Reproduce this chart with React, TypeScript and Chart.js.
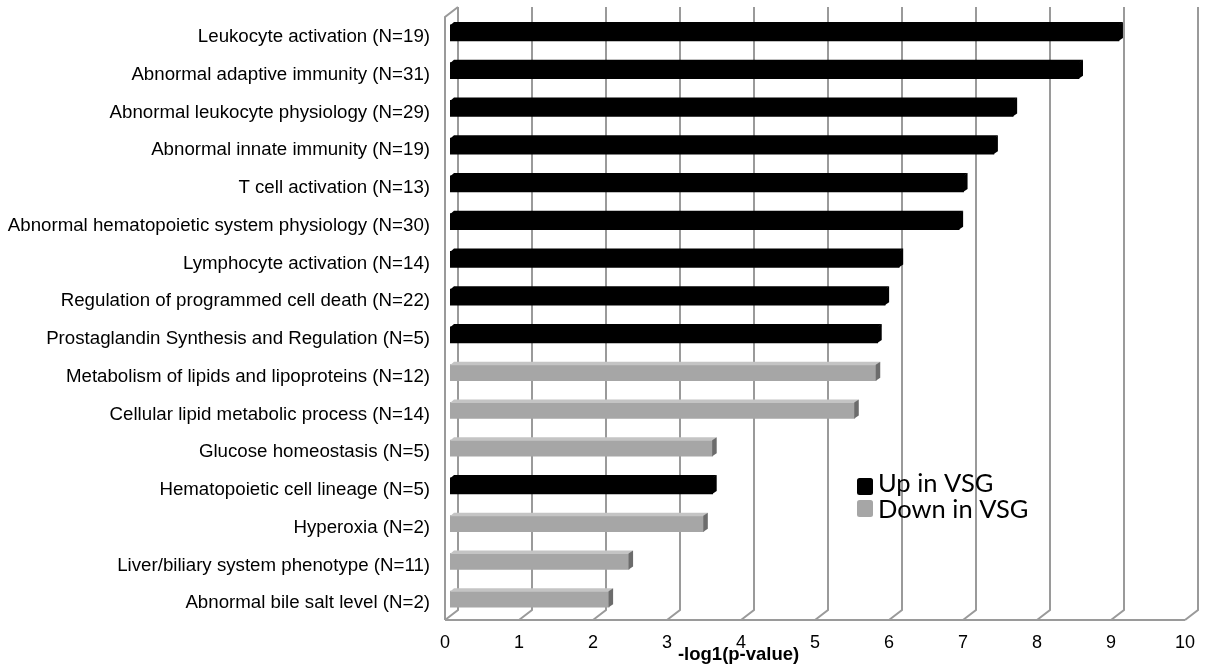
import React, { useEffect, useRef } from "react";
import { Chart, registerables } from "chart.js";

Chart.register(...registerables);

const categories = [
  "Leukocyte activation (N=19)",
  "Abnormal adaptive immunity (N=31)",
  "Abnormal leukocyte physiology (N=29)",
  "Abnormal innate immunity (N=19)",
  "T cell activation (N=13)",
  "Abnormal hematopoietic system physiology (N=30)",
  "Lymphocyte activation (N=14)",
  "Regulation of programmed cell death (N=22)",
  "Prostaglandin Synthesis and Regulation (N=5)",
  "Metabolism of lipids and lipoproteins (N=12)",
  "Cellular lipid metabolic process (N=14)",
  "Glucose homeostasis (N=5)",
  "Hematopoietic cell lineage (N=5)",
  "Hyperoxia (N=2)",
  "Liver/biliary system phenotype (N=11)",
  "Abnormal bile salt level (N=2)",
];

const values = [9.04, 8.5, 7.61, 7.35, 6.94, 6.88, 6.07, 5.88, 5.78, 5.76, 5.47, 3.55, 3.55, 3.43, 2.42, 2.15];

const direction = ["up", "up", "up", "up", "up", "up", "up", "up", "up", "down", "down", "down", "up", "down", "down", "down"];

const seriesNames = ["Up in VSG", "Down in VSG"];
const tickValues = [0, 1, 2, 3, 4, 5, 6, 7, 8, 9, 10];
const axisTitle = "-log1(p-value)";

const upValues = values.map((v, i) => (direction[i] === "up" ? v : null));
const downValues = values.map((v, i) => (direction[i] === "down" ? v : null));

const GRID = "#9a9a9a";
const faces = [
  { front: "#000000", top: "#000000", side: "#000000" },
  { front: "#a6a6a6", top: "#c4c4c4", side: "#6c6c6c" },
];
const DX = 4;
const DY = 3;

const threeDPlugin = {
  id: "threeD",
  beforeDatasetsDraw(chart: any) {
    const ctx = chart.ctx;
    const xs = chart.scales.x;
    const area = chart.chartArea;
    const backTop = area.top - 7;
    const backBottom = area.bottom - 8;
    const frontBottom = area.bottom + 2;
    ctx.save();
    ctx.strokeStyle = GRID;
    ctx.lineWidth = 2;
    ctx.lineJoin = "miter";
    const x0 = xs.getPixelForValue(0);
    const x10 = xs.getPixelForValue(10);
    ctx.beginPath();
    ctx.moveTo(x0 - 5, frontBottom);
    ctx.lineTo(x0 - 5, backTop + 10);
    ctx.lineTo(x0 + 8, backTop);
    ctx.stroke();
    ctx.beginPath();
    ctx.moveTo(x0 - 5, frontBottom);
    ctx.lineTo(x10 - 5, frontBottom);
    ctx.stroke();
    tickValues.forEach((v) => {
      const p = xs.getPixelForValue(v);
      ctx.beginPath();
      ctx.moveTo(p + 8, backTop);
      ctx.lineTo(p + 8, backBottom);
      ctx.lineTo(p - 5, frontBottom);
      ctx.stroke();
    });
    ctx.restore();
  },
  afterDatasetsDraw(chart: any) {
    const ctx = chart.ctx;
    ctx.save();
    chart.data.datasets.forEach((ds: any, di: number) => {
      const meta = chart.getDatasetMeta(di);
      const col = faces[di];
      meta.data.forEach((el: any, i: number) => {
        if (ds.data[i] === null || ds.data[i] === undefined) return;
        const { x, y, base, height } = el.getProps(["x", "y", "base", "height"], true);
        const top = y - height / 2;
        const bottom = y + height / 2;
        ctx.fillStyle = col.top;
        ctx.beginPath();
        ctx.moveTo(base, top + 0.5);
        ctx.lineTo(base + DX, top - DY);
        ctx.lineTo(x + DX, top - DY);
        ctx.lineTo(x, top + 0.5);
        ctx.closePath();
        ctx.fill();
        ctx.fillStyle = col.side;
        ctx.beginPath();
        ctx.moveTo(x - 0.5, top);
        ctx.lineTo(x + DX, top - DY);
        ctx.lineTo(x + DX, bottom - DY);
        ctx.lineTo(x - 0.5, bottom);
        ctx.closePath();
        ctx.fill();
      });
    });
    ctx.restore();
  },
  afterDraw(chart: any) {
    const ctx = chart.ctx;
    const xs = chart.scales.x;
    const area = chart.chartArea;
    ctx.save();
    ctx.fillStyle = "#000";
    ctx.font = "bold 18.5px 'Liberation Sans', Arial, sans-serif";
    ctx.textAlign = "center";
    ctx.textBaseline = "alphabetic";
    ctx.fillText(axisTitle, xs.getPixelForValue(3.9), area.bottom + 42);
    const lx = xs.getPixelForValue(5.5);
    const ly = area.bottom - 140;
    ctx.textAlign = "left";
    ctx.font = "25.5px Lato, 'Open Sans', sans-serif";
    seriesNames.forEach((name, i) => {
      ctx.fillStyle = faces[i].front;
      const sy = ly + i * 22;
      ctx.beginPath();
      (ctx as any).roundRect(lx, sy, 16, 17, 2.5);
      ctx.fill();
      ctx.fillStyle = "#000";
      ctx.fillText(name, lx + 21, sy + 14 + i * 4);
    });
    ctx.restore();
  },
};

const zeroPad = (s: any) => {
  s.paddingTop = 0;
  s.paddingBottom = 0;
  s.paddingLeft = 0;
  s.paddingRight = 0;
};

export default function App() {
  const ref = useRef<HTMLCanvasElement | null>(null);
  useEffect(() => {
    if (!ref.current) return;
    const chart = new Chart(ref.current, {
      type: "bar",
      data: {
        labels: categories,
        datasets: [
          { label: seriesNames[0], data: upValues, backgroundColor: faces[0].front, barThickness: 16, grouped: false } as any,
          { label: seriesNames[1], data: downValues, backgroundColor: faces[1].front, barThickness: 16, grouped: false } as any,
        ],
      },
      options: {
        indexAxis: "y",
        animation: false,
        responsive: true,
        maintainAspectRatio: false,
        layout: { padding: { left: 0, right: 15, top: 14, bottom: 0 } },
        plugins: { legend: { display: false }, tooltip: { enabled: false }, title: { display: false } },
        scales: {
          x: {
            min: 0,
            max: 10,
            grid: { display: false, drawTicks: false },
            border: { display: false },
            ticks: {
              stepSize: 1,
              color: "#000",
              padding: 14,
              labelOffset: -5,
              font: { family: "'Liberation Sans', Arial, sans-serif", size: 18 },
            },
            afterFit: (s: any) => {
              s.height = 49;
              zeroPad(s);
            },
          },
          y: {
            grid: { display: false, drawTicks: false },
            border: { display: false },
            ticks: {
              color: "#000",
              padding: 20,
              labelOffset: 4,
              font: { family: "'Liberation Sans', Arial, sans-serif", size: 18.7 },
            },
            afterFit: (s: any) => {
              s.width = 450;
              zeroPad(s);
            },
          },
        },
      },
      plugins: [threeDPlugin],
    });
    return () => chart.destroy();
  }, []);
  return (
    <div style={{ position: "absolute", left: 0, top: 0, width: 1205, height: 667, background: "#fff" }}>
      <canvas ref={ref} />
    </div>
  );
}
